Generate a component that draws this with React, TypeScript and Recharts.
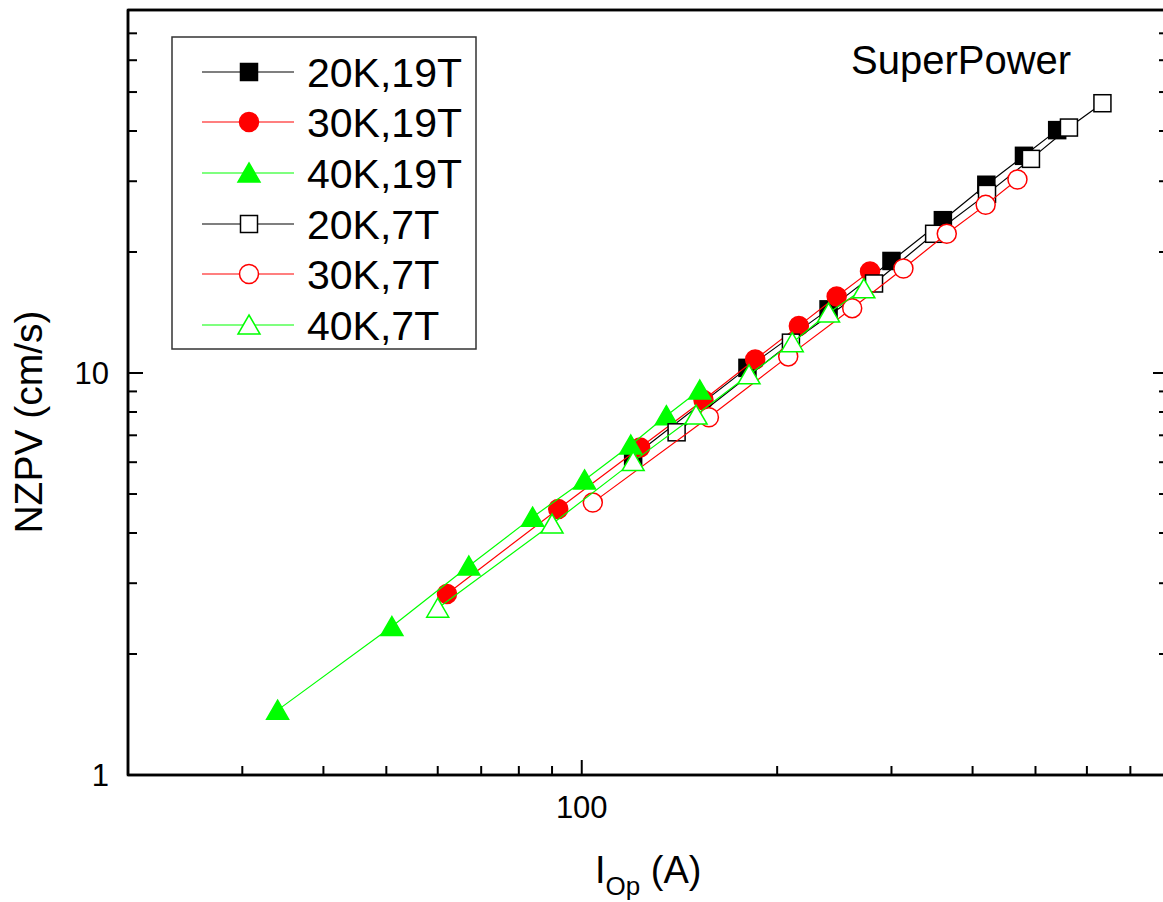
import { Scatter, ScatterChart, XAxis, YAxis } from "recharts";

const FONT = "'Liberation Sans', Arial, sans-serif";

const seriesNames = ["20K,19T", "30K,19T", "40K,19T", "20K,7T", "30K,7T", "40K,7T"];
const seriesColors = ["#000000", "#ff0000", "#00ff00", "#000000", "#ff0000", "#00ff00"];
const seriesShapes = ["square", "circle", "triangle", "square", "circle", "triangle"];
const seriesFilled = [true, true, true, false, false, false];

// operating current (A) and NZPV (cm/s)
const current20K19T = [120, 180, 240, 300, 360, 420, 480, 540];
const nzpv20K19T = [6.2, 10.3, 14.4, 19.0, 24.0, 29.4, 34.7, 40.2];
const current30K19T = [62, 92, 123, 154, 185, 216, 247, 278];
const nzpv30K19T = [2.82, 4.59, 6.53, 8.57, 10.8, 13.1, 15.5, 17.9];
const current40K19T = [34, 51, 67, 84, 101, 119, 135, 152];
const nzpv40K19T = [1.45, 2.34, 3.31, 4.38, 5.42, 6.62, 7.83, 9.07];
const current20K7T = [140, 210, 282, 349, 421, 492, 563, 634];
const nzpv20K7T = [7.12, 11.9, 16.7, 22.2, 27.9, 34.1, 40.8, 46.9];
const current30K7T = [104, 157, 208, 261, 313, 365, 419, 469];
const nzpv30K7T = [4.76, 7.76, 11.0, 14.5, 18.2, 22.2, 26.2, 30.3];
const current40K7T = [60, 90, 120, 150, 181, 211, 240, 272];
const nzpv40K7T = [2.6, 4.21, 6.02, 7.86, 9.9, 11.9, 14.1, 16.2];

const xTicks = [30, 40, 50, 60, 70, 80, 90, 100, 200, 300, 400, 500, 600, 700];
const yTicks = [1, 2, 3, 4, 5, 6, 7, 8, 9, 10, 20, 30, 40, 50, 60, 70];
const xMajor = [100];
const yMajor = [1, 10];

const currents = [current20K19T, current30K19T, current40K19T, current20K7T, current30K7T, current40K7T];
const nzpvs = [nzpv20K19T, nzpv30K19T, nzpv40K19T, nzpv20K7T, nzpv30K7T, nzpv40K7T];

const points = currents.map((xs, i) => xs.map((x, j) => ({ x, y: nzpvs[i][j] })));

function Marker({ cx, cy, shape, color, filled }: any) {
  const fill = filled ? color : "#fff";
  const sw = 1.5;
  if (shape === "square")
    return <rect x={cx - 8.5} y={cy - 8.5} width={17} height={17} fill={fill} stroke={color} strokeWidth={sw} />;
  if (shape === "circle") return <circle cx={cx} cy={cy} r={9.5} fill={fill} stroke={color} strokeWidth={sw} />;
  return (
    <polygon
      points={`${cx},${cy - 10} ${cx + 11},${cy + 9} ${cx - 11},${cy + 9}`}
      fill={fill}
      stroke={color}
      strokeWidth={sw}
    />
  );
}

const BottomTick = (p: any) => {
  const v = p.payload.value;
  const major = xMajor.includes(v);
  return (
    <g>
      <line x1={p.x} x2={p.x} y1={p.y} y2={p.y - (major ? 15 : 9)} stroke="#000" strokeWidth={2} />
      {major && (
        <text x={p.x} y={p.y + 43} textAnchor="middle" fontSize={31} fontFamily={FONT} fill="#000">
          {v}
        </text>
      )}
    </g>
  );
};

const TopTick = (p: any) => {
  const major = xMajor.includes(p.payload.value);
  return <line x1={p.x} x2={p.x} y1={10} y2={10 + (major ? 15 : 9)} stroke="#000" strokeWidth={2} />;
};

const LeftTick = (p: any) => {
  const v = p.payload.value;
  const major = yMajor.includes(v);
  return (
    <g>
      <line x1={p.x} x2={p.x + (major ? 15 : 9)} y1={p.y} y2={p.y} stroke="#000" strokeWidth={2} />
      {major && (
        <text x={p.x - 19} y={p.y + 11} textAnchor="end" fontSize={31} fontFamily={FONT} fill="#000">
          {v}
        </text>
      )}
    </g>
  );
};

const RightTick = (p: any) => {
  const major = yMajor.includes(p.payload.value);
  return <line x1={p.x} x2={p.x - (major ? 15 : 9)} y1={p.y} y2={p.y} stroke="#000" strokeWidth={2} />;
};

const axisLine = { stroke: "#000", strokeWidth: 2.5 };

export default function App() {
  const rowY = [72, 122, 173, 224, 274, 325];
  return (
    <div style={{ position: "absolute", left: 0, top: 0, width: 1163, height: 902, overflow: "hidden", background: "#fff" }}>
      <ScatterChart width={1170} height={902} margin={{ top: 0, right: 0, bottom: 0, left: 0 }}>
        <XAxis
          dataKey="x"
          type="number"
          scale="log"
          domain={[20, 800]}
          allowDataOverflow
          ticks={xTicks}
          interval={0}
          height={127}
          tickSize={0}
          tickMargin={0}
          tickLine={false}
          axisLine={axisLine}
          tick={BottomTick}
        />
        <XAxis
          xAxisId="top"
          orientation="top"
          type="number"
          scale="log"
          domain={[20, 800]}
          allowDataOverflow
          ticks={xTicks}
          interval={0}
          height={10}
          tickSize={0}
          tickMargin={0}
          tickLine={false}
          axisLine={axisLine}
          tick={TopTick}
        />
        <YAxis
          dataKey="y"
          type="number"
          scale="log"
          domain={[1, 80]}
          allowDataOverflow
          ticks={yTicks}
          interval={0}
          width={128}
          tickSize={0}
          tickMargin={0}
          tickLine={false}
          axisLine={axisLine}
          tick={LeftTick}
        />
        <YAxis
          yAxisId="right"
          orientation="right"
          type="number"
          scale="log"
          domain={[1, 80]}
          allowDataOverflow
          ticks={yTicks}
          interval={0}
          width={2}
          tickSize={0}
          tickMargin={0}
          tickLine={false}
          axisLine={axisLine}
          tick={RightTick}
        />
        {points.map((pts, i) => (
          <Scatter
            key={seriesNames[i]}
            name={seriesNames[i]}
            data={pts}
            isAnimationActive={false}
            line={{ stroke: seriesColors[i], strokeWidth: 1.2 }}
            shape={(p: any) => (
              <Marker cx={p.cx} cy={p.cy} shape={seriesShapes[i]} color={seriesColors[i]} filled={seriesFilled[i]} />
            )}
          />
        ))}
      </ScatterChart>
      <svg width={1163} height={902} style={{ position: "absolute", left: 0, top: 0, pointerEvents: "none" }}>
        <rect x={128} y={10} width={1040} height={765} fill="none" stroke="#000" strokeWidth={2.5} />
        <text
          x={42}
          y={422}
          transform="rotate(-90 42 422)"
          textAnchor="middle"
          fontSize={39}
          fontFamily={FONT}
          fill="#000"
        >
          NZPV (cm/s)
        </text>
        <text x={595} y={883} fontSize={38} fontFamily={FONT} fill="#000">
          <tspan>I</tspan>
          <tspan dy={12} fontSize={26}>Op</tspan>
          <tspan dy={-12}> (A)</tspan>
        </text>
        <text x={851} y={74} fontSize={40} fontFamily={FONT} fill="#000">
          SuperPower
        </text>
        <rect x={172} y={37} width={304} height={312} fill="#fff" stroke="#333" strokeWidth={1.5} />
        {seriesNames.map((name, i) => (
          <g key={name}>
            <line x1={202} x2={294} y1={rowY[i]} y2={rowY[i]} stroke={seriesColors[i]} strokeWidth={1.2} />
            <Marker cx={249} cy={rowY[i]} shape={seriesShapes[i]} color={seriesColors[i]} filled={seriesFilled[i]} />
            <text x={307} y={rowY[i] + 15} fontSize={41} fontFamily={FONT} fill="#000">
              {name}
            </text>
          </g>
        ))}
      </svg>
    </div>
  );
}
